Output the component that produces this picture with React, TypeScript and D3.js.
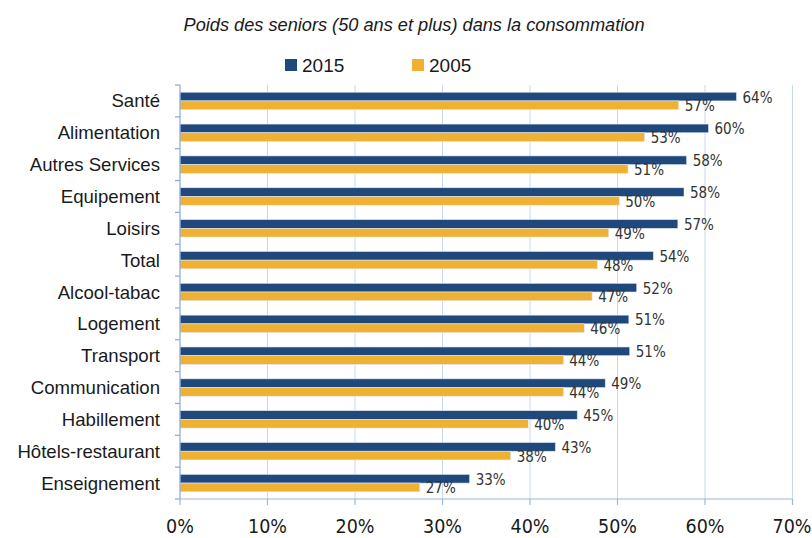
import React from "react";
import * as d3 from "d3";

// Données (part des 50 ans et plus, en %)
const categories = [
  "Santé",
  "Alimentation",
  "Autres Services",
  "Equipement",
  "Loisirs",
  "Total",
  "Alcool-tabac",
  "Logement",
  "Transport",
  "Communication",
  "Habillement",
  "Hôtels-restaurant",
  "Enseignement",
];
const values2015 = [63.6, 60.4, 57.9, 57.6, 56.9, 54.1, 52.2, 51.3, 51.4, 48.6, 45.4, 42.9, 33.1];
const values2005 = [57.0, 53.1, 51.2, 50.2, 49.0, 47.7, 47.1, 46.2, 43.8, 43.8, 39.8, 37.8, 27.4];
const seriesNames = ["2015", "2005"];
const xTicks = [0, 10, 20, 30, 40, 50, 60, 70];

const W = 812;
const H = 538;
const NAVY = "#1f497d";
const ORANGE = "#f0b132";
const NARROW = "'DejaVu Sans Condensed', sans-serif";
const SANS = "'Liberation Sans', Arial, sans-serif";

const App = () => {
  const left = 180;
  const right = 792.5;
  const top = 85;
  const bottom = 499;

  const x = d3.scaleLinear().domain([0, 70]).range([left, right]);
  const y = d3.scaleBand().domain(categories).range([top, bottom]);
  const bw = y.bandwidth();
  const ySub = d3
    .scaleBand()
    .domain(seriesNames)
    .range([0, bw])
    .paddingInner(0)
    .paddingOuter(0.83);

  const series = [
    { name: "2015", values: values2015, color: NAVY },
    { name: "2005", values: values2005, color: ORANGE },
  ];

  // limites des bandes pour les petits traits de l'axe vertical
  const boundaries = categories.map((c) => y(c)).concat([bottom]);

  return (
    <svg
      width={W}
      height={H}
      style={{ position: "absolute", left: 0, top: 0, background: "#fff" }}
    >
      {/* titre */}
      <text
        x={414}
        y={31}
        textAnchor="middle"
        fontFamily={SANS}
        fontStyle="italic"
        fontSize={18.2}
        fill="#1a1a1a"
      >
        Poids des seniors (50 ans et plus) dans la consommation
      </text>

      {/* légende */}
      {series.map((s, i) => (
        <g key={s.name} transform={`translate(${285 + i * 127}, 59)`}>
          <rect width={12} height={12} fill={s.color} />
          <text x={17} y={12.5} fontFamily={SANS} fontSize={19} fill="#1a1a1a">
            {s.name}
          </text>
        </g>
      ))}

      {/* grille verticale */}
      {xTicks.slice(1).map((t) => (
        <line
          key={t}
          x1={x(t)}
          x2={x(t)}
          y1={top}
          y2={bottom}
          stroke="#c8d8ef"
          strokeWidth={1}
        />
      ))}

      {/* barres */}
      {series.map((s) =>
        categories.map((c, i) => (
          <rect
            key={s.name + c}
            x={x(0)}
            y={y(c) + ySub(s.name)}
            width={x(s.values[i]) - x(0)}
            height={ySub.bandwidth()}
            fill={s.color}
            stroke="#dfe7f3"
            strokeWidth={0.6}
          />
        ))
      )}

      {/* étiquettes de valeurs */}
      {series.map((s) =>
        categories.map((c, i) => (
          <text
            key={"l" + s.name + c}
            x={x(s.values[i]) + 6}
            y={y(c) + ySub(s.name) + ySub.bandwidth() / 2 + 1}
            dominantBaseline="central"
            fontFamily={NARROW}
            fontSize={15}
            fill="#333"
          >
            {Math.round(s.values[i])}%
          </text>
        ))
      )}

      {/* axe vertical */}
      <line x1={left} x2={left} y1={top} y2={bottom} stroke="#86a8d8" strokeWidth={1.2} />
      {boundaries.map((b, i) => (
        <line key={i} x1={left - 5} x2={left} y1={b} y2={b} stroke="#86a8d8" strokeWidth={1.2} />
      ))}
      {categories.map((c) => (
        <text
          key={"c" + c}
          x={160}
          y={y(c) + bw / 2}
          dominantBaseline="central"
          textAnchor="end"
          fontFamily={SANS}
          fontSize={18.6}
          fill="#1a1a1a"
        >
          {c}
        </text>
      ))}

      {/* axe horizontal */}
      <line x1={left} x2={right} y1={bottom} y2={bottom} stroke="#9db8e0" strokeWidth={1.2} />
      {xTicks.map((t) => (
        <g key={"t" + t}>
          <line x1={x(t)} x2={x(t)} y1={bottom} y2={bottom + 6} stroke="#9db8e0" strokeWidth={1.2} />
          <text
            x={Math.min(x(t), 792)}
            y={533}
            textAnchor="middle"
            fontFamily={NARROW}
            fontSize={19.5}
            fill="#1a1a1a"
          >
            {t}%
          </text>
        </g>
      ))}
    </svg>
  );
};

export default App;
